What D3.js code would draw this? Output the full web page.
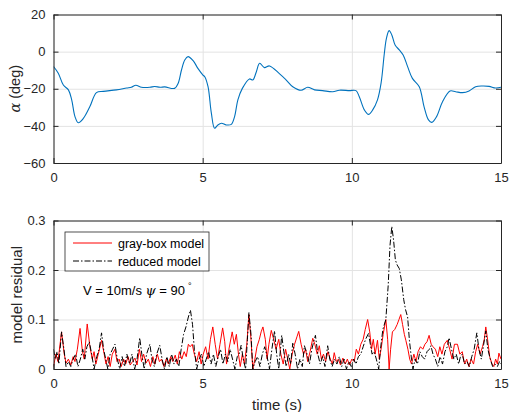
<!DOCTYPE html>
<html>
<head>
<meta charset="utf-8">
<script src="https://cdn.jsdelivr.net/npm/d3@7"></script>
<style>
  body { margin: 0; background: #fff; }
  svg { font-family: "Liberation Sans", Arial, sans-serif; }
  .axis path, .axis line { stroke: #262626; }
  .axis text { fill: #262626; font-size: 13px; }
  .grid line { stroke: #e3e3e3; }
  .grid path { display: none; }
</style>
</head>
<body>
<div id="chart"></div>
<script>
// angle of attack (t [s], alpha [deg])
var alphaT = [0, 0.16, 0.33, 0.5, 0.61, 0.72, 0.83, 1.0, 1.22, 1.44, 1.67, 2.11, 2.45, 2.61, 2.76, 2.95, 3.23, 3.39, 3.57, 3.73, 4.06, 4.18, 4.29, 4.40, 4.51, 4.68, 4.84, 5.01, 5.07, 5.18, 5.29, 5.40, 5.51, 5.63, 5.79, 5.96, 6.07, 6.18, 6.33, 6.57, 6.68, 6.80, 6.91, 7.07, 7.24, 7.58, 7.80, 8.02, 8.30, 8.52, 8.75, 9.02, 9.36, 9.58, 9.92, 10.14, 10.25, 10.42, 10.56, 10.70, 10.86, 10.98, 11.09, 11.16, 11.25, 11.34, 11.45, 11.59, 11.72, 11.87, 12.03, 12.26, 12.42, 12.57, 12.68, 12.84, 13.04, 13.29, 13.48, 13.71, 13.93, 14.15, 14.37, 14.6, 14.82, 15];
var alphaV = [-8, -11.6, -18, -20.6, -26, -35, -38.3, -36, -29.6, -22.1, -21.4, -20.6, -19.6, -19.2, -18.1, -19.2, -19.2, -18.8, -19.2, -19, -19.8, -17, -9.9, -4.5, -2.7, -4.9, -9, -12.6, -13.5, -18.9, -33, -41.3, -39.5, -38.6, -39.5, -39.2, -35, -26, -19.8, -14.7, -15.3, -10.8, -6.3, -8.6, -7.7, -12, -15.3, -18.9, -20.8, -19.2, -20.6, -21, -21.6, -20.8, -21, -21, -24.3, -31.4, -33.8, -31.4, -26, -17, -0.9, 7.2, 11.3, 9, 3.6, 0.9, -1.8, -8.1, -14.4, -18.9, -29.6, -36.8, -38.1, -35, -27, -21.2, -21.6, -22.1, -21.2, -18.9, -18.5, -18.7, -19.6, -19.2];

// gray-box model residual
var grayT = [0, 0.08, 0.15, 0.27, 0.36, 0.42, 0.5, 0.58, 0.66, 0.72, 0.8, 0.89, 0.97, 1.03, 1.13, 1.22, 1.3, 1.36, 1.42, 1.5, 1.61, 1.7, 1.76, 1.83, 1.9, 1.97, 2.06, 2.13, 2.2, 2.27, 2.35, 2.42, 2.5, 2.57, 2.65, 2.73, 2.8, 2.88, 2.95, 3.02, 3.1, 3.18, 3.25, 3.33, 3.4, 3.48, 3.55, 3.62, 3.7, 3.78, 3.85, 3.93, 4.0, 4.08, 4.15, 4.22, 4.3, 4.38, 4.45, 4.52, 4.58, 4.65, 4.72, 4.8, 4.88, 4.95, 5.02, 5.1, 5.18, 5.26, 5.34, 5.42, 5.5, 5.58, 5.67, 5.74, 5.8, 5.88, 5.99, 6.06, 6.13, 6.2, 6.26, 6.33, 6.4, 6.48, 6.55, 6.62, 6.68, 6.75, 6.82, 6.9, 6.96, 7.02, 7.1, 7.16, 7.22, 7.3, 7.38, 7.46, 7.55, 7.62, 7.7, 7.78, 7.85, 7.92, 8.0, 8.08, 8.16, 8.22, 8.3, 8.38, 8.45, 8.52, 8.6, 8.69, 8.76, 8.84, 8.91, 8.98, 9.05, 9.12, 9.2, 9.28, 9.35, 9.41, 9.48, 9.55, 9.62, 9.7, 9.78, 9.85, 9.92, 10.0, 10.08, 10.15, 10.22, 10.3, 10.38, 10.45, 10.53, 10.6, 10.66, 10.72, 10.78, 10.86, 10.92, 10.98, 11.05, 11.14, 11.2, 11.25, 11.3, 11.36, 11.44, 11.52, 11.58, 11.64, 11.7, 11.76, 11.81, 11.88, 11.94, 12.0, 12.08, 12.15, 12.22, 12.3, 12.38, 12.45, 12.52, 12.59, 12.66, 12.72, 12.8, 12.88, 12.95, 13.02, 13.1, 13.2, 13.28, 13.36, 13.44, 13.54, 13.62, 13.7, 13.78, 13.85, 13.92, 14.0, 14.08, 14.15, 14.22, 14.3, 14.38, 14.44, 14.49, 14.55, 14.62, 14.7, 14.76, 14.82, 14.88, 14.93, 15.0];
var grayV = [0.005, 0.03, 0.015, 0.075, 0.03, 0.012, 0.02, 0.008, 0.025, 0.015, 0.04, 0.082, 0.035, 0.02, 0.091, 0.045, 0.02, 0.035, 0.01, 0.03, 0.058, 0.03, 0.01, 0.025, 0.005, 0.03, 0.04, 0.015, 0.02, 0.005, 0.02, 0.01, 0.025, 0.008, 0.015, 0.022, 0.008, 0.04, 0.015, 0.03, 0.012, 0.02, 0.005, 0.025, 0.01, 0.03, 0.015, 0.02, 0.005, 0.02, 0.01, 0.025, 0.015, 0.028, 0.01, 0.035, 0.02, 0.035, 0.025, 0.05, 0.045, 0.05, 0.03, 0.015, 0.035, 0.01, 0.03, 0.045, 0.02, 0.06, 0.085, 0.05, 0.02, 0.05, 0.083, 0.055, 0.01, 0.04, 0.075, 0.05, 0.07, 0.03, 0.005, 0.03, 0.01, 0.05, 0.11, 0.06, 0.0, 0.02, 0.045, 0.06, 0.075, 0.085, 0.06, 0.02, 0.05, 0.078, 0.06, 0.04, 0.06, 0.03, 0.01, 0.04, 0.02, 0.0, 0.03, 0.05, 0.065, 0.076, 0.05, 0.03, 0.04, 0.015, 0.035, 0.062, 0.05, 0.03, 0.047, 0.02, 0.03, 0.015, 0.035, 0.02, 0.01, 0.033, 0.015, 0.02, 0.008, 0.022, 0.01, 0.02, 0.008, 0.02, 0.015, 0.04, 0.03, 0.05, 0.06, 0.08, 0.1, 0.075, 0.04, 0.06, 0.03, 0.058, 0.02, 0.04, 0.07, 0.1, 0.06, 0.0, 0.04, 0.075, 0.08, 0.09, 0.1, 0.11, 0.09, 0.07, 0.058, 0.04, 0.02, 0.01, 0.03, 0.015, 0.035, 0.045, 0.04, 0.05, 0.055, 0.068, 0.05, 0.045, 0.04, 0.025, 0.045, 0.03, 0.05, 0.058, 0.04, 0.02, 0.05, 0.05, 0.03, 0.035, 0.01, 0.02, 0.005, 0.02, 0.01, 0.035, 0.05, 0.03, 0.045, 0.06, 0.085, 0.06, 0.025, 0.01, 0.005, 0.02, 0.01, 0.032, 0.02];

// reduced model residual
var reducedT = [0, 0.06, 0.12, 0.18, 0.27, 0.35, 0.42, 0.5, 0.58, 0.66, 0.74, 0.82, 0.9, 0.98, 1.05, 1.12, 1.2, 1.28, 1.36, 1.45, 1.53, 1.61, 1.68, 1.75, 1.82, 1.9, 1.98, 2.06, 2.14, 2.22, 2.3, 2.38, 2.46, 2.55, 2.63, 2.72, 2.8, 2.89, 2.96, 3.04, 3.12, 3.23, 3.3, 3.38, 3.46, 3.56, 3.64, 3.72, 3.8, 3.88, 3.96, 4.04, 4.12, 4.2, 4.28, 4.36, 4.44, 4.52, 4.59, 4.66, 4.72, 4.8, 4.88, 4.96, 5.04, 5.12, 5.2, 5.28, 5.36, 5.44, 5.52, 5.6, 5.68, 5.76, 5.84, 5.92, 6.0, 6.08, 6.16, 6.22, 6.29, 6.36, 6.44, 6.5, 6.55, 6.62, 6.68, 6.76, 6.84, 6.92, 7.0, 7.08, 7.16, 7.24, 7.32, 7.41, 7.48, 7.55, 7.65, 7.72, 7.8, 7.88, 7.95, 8.02, 8.1, 8.18, 8.26, 8.34, 8.41, 8.5, 8.58, 8.66, 8.72, 8.78, 8.86, 8.94, 9.02, 9.1, 9.19, 9.26, 9.34, 9.42, 9.5, 9.58, 9.66, 9.74, 9.82, 9.9, 9.98, 10.06, 10.14, 10.22, 10.3, 10.38, 10.46, 10.56, 10.62, 10.68, 10.75, 10.82, 10.9, 10.96, 11.04, 11.14, 11.22, 11.28, 11.34, 11.4, 11.46, 11.52, 11.59, 11.66, 11.74, 11.8, 11.87, 11.93, 12.0, 12.05, 12.12, 12.2, 12.28, 12.36, 12.44, 12.52, 12.6, 12.65, 12.72, 12.8, 12.88, 12.96, 13.04, 13.12, 13.2, 13.26, 13.34, 13.42, 13.5, 13.58, 13.64, 13.7, 13.78, 13.86, 13.94, 14.02, 14.1, 14.19, 14.26, 14.34, 14.42, 14.49, 14.56, 14.64, 14.72, 14.8, 14.88, 14.95, 15.0];
var reducedV = [0.04, 0.02, 0.035, 0.01, 0.075, 0.04, 0.005, 0.015, 0.005, 0.02, 0.03, 0.005, 0.02, 0.04, 0.02, 0.045, 0.055, 0.03, 0.0, 0.025, 0.04, 0.073, 0.04, 0.02, 0.0, 0.03, 0.04, 0.05, 0.02, 0.0, 0.025, 0.005, 0.03, 0.01, 0.03, 0.0, 0.02, 0.063, 0.03, 0.0, 0.03, 0.05, 0.02, 0.005, 0.03, 0.048, 0.02, 0.0, 0.025, 0.005, 0.03, 0.01, 0.02, 0.005, 0.04, 0.07, 0.085, 0.105, 0.119, 0.09, 0.04, 0.0, 0.02, 0.03, 0.005, 0.02, 0.035, 0.01, 0.03, 0.005, 0.025, 0.04, 0.01, 0.03, 0.015, 0.04, 0.02, 0.0, 0.025, 0.03, 0.048, 0.02, 0.0, 0.06, 0.114, 0.07, 0.0, 0.015, 0.025, 0.005, 0.03, 0.045, 0.025, 0.0, 0.04, 0.077, 0.03, 0.0, 0.068, 0.035, 0.005, 0.03, 0.01, 0.052, 0.03, 0.0, 0.02, 0.005, 0.047, 0.03, 0.01, 0.04, 0.055, 0.068, 0.03, 0.01, 0.025, 0.005, 0.047, 0.02, 0.005, 0.02, 0.01, 0.025, 0.005, 0.02, 0.0, 0.015, 0.005, 0.02, 0.01, 0.025, 0.03, 0.045, 0.06, 0.072, 0.05, 0.03, 0.035, 0.02, 0.0, 0.04, 0.08, 0.1, 0.17, 0.25, 0.288, 0.26, 0.22, 0.21, 0.203, 0.18, 0.14, 0.12, 0.105, 0.058, 0.02, 0.0, 0.02, 0.01, 0.035, 0.025, 0.02, 0.035, 0.04, 0.047, 0.03, 0.02, 0.005, 0.025, 0.01, 0.035, 0.045, 0.063, 0.04, 0.02, 0.03, 0.01, 0.025, 0.03, 0.01, 0.015, 0.005, 0.025, 0.04, 0.073, 0.04, 0.02, 0.05, 0.077, 0.04, 0.02, 0.005, 0.01, 0.005, 0.015, 0.01];

var xTicks = [0, 5, 10, 15];
var alphaTicks = [-60, -40, -20, 0, 20];
var resTicks = [0, 0.1, 0.2, 0.3];

var W = 509, H = 412;
var svg = d3.select("#chart").append("svg").attr("width", W).attr("height", H);

function zip(t, v) { return t.map(function(d, i) { return [d, v[i]]; }); }

// one MATLAB style axes box, returns scales + group
function panel(box, ydom, yticks, yfmt) {
    var x = d3.scaleLinear().domain([0, 15]).range([box.left, box.right]);
    var y = d3.scaleLinear().domain(ydom).range([box.bottom, box.top]);
    var g = svg.append("g");
    var w = box.right - box.left, h = box.bottom - box.top;
    g.append("g").attr("class", "grid").attr("transform", "translate(0," + box.bottom + ")")
        .call(d3.axisBottom(x).tickValues(xTicks).tickSize(-h).tickFormat(""));
    g.append("g").attr("class", "grid").attr("transform", "translate(" + box.left + ",0)")
        .call(d3.axisLeft(y).tickValues(yticks).tickSize(-w).tickFormat(""));
    var clip = "clip" + Math.round(box.top);
    svg.append("clipPath").attr("id", clip).append("rect")
        .attr("x", box.left).attr("y", box.top - 1).attr("width", w).attr("height", h + 1);
    var plot = g.append("g").attr("clip-path", "url(#" + clip + ")");
    return { x: x, y: y, g: g, plot: plot, box: box, yticks: yticks, yfmt: yfmt };
}

function frame(p) {
    var b = p.box, g = p.g;
    g.append("g").attr("class", "axis").attr("transform", "translate(0," + b.bottom + ")")
        .call(d3.axisBottom(p.x).tickValues(xTicks).tickSize(-5).tickPadding(10).tickSizeOuter(0));
    g.append("g").attr("class", "axis").attr("transform", "translate(0," + b.top + ")")
        .call(d3.axisTop(p.x).tickValues(xTicks).tickSize(-5).tickFormat("").tickSizeOuter(0));
    g.append("g").attr("class", "axis").attr("transform", "translate(" + b.left + ",0)")
        .call(d3.axisLeft(p.y).tickValues(p.yticks).tickSize(-5).tickPadding(8).tickFormat(p.yfmt).tickSizeOuter(0));
    g.append("g").attr("class", "axis").attr("transform", "translate(" + b.right + ",0)")
        .call(d3.axisRight(p.y).tickValues(p.yticks).tickSize(-5).tickFormat("").tickSizeOuter(0));
    g.selectAll(".axis").attr("font-family", null).attr("font-size", null);
}

// top: angle of attack
var topP = panel({ left: 53.5, right: 501, top: 14.5, bottom: 163 }, [-60, 20], alphaTicks, d3.format("d"));
topP.plot.append("path")
    .datum(zip(alphaT, alphaV))
    .attr("fill", "none").attr("stroke", "#0072bd").attr("stroke-width", 1.1)
    .attr("d", d3.line().x(function(d) { return topP.x(d[0]); }).y(function(d) { return topP.y(d[1]); }).curve(d3.curveCatmullRom.alpha(0.5)));
frame(topP);

svg.append("text")
    .attr("transform", "translate(20," + ((14.5 + 163) / 2) + ")rotate(-90)")
    .attr("text-anchor", "middle").attr("font-size", "14.5px").attr("fill", "#262626")
    .html('<tspan font-family="DejaVu Serif" font-style="italic">α</tspan> (deg)');

// bottom: residuals
var botP = panel({ left: 53.5, right: 501, top: 220.5, bottom: 369 }, [0, 0.3], resTicks, function(d) { return d === 0 ? "0" : d3.format(".1f")(d); });
var line = d3.line().x(function(d) { return botP.x(d[0]); }).y(function(d) { return botP.y(d[1]); });
botP.plot.append("path").datum(zip(grayT, grayV))
    .attr("fill", "none").attr("stroke", "#ff0000").attr("stroke-width", 1)
    .attr("d", line);
botP.plot.append("path").datum(zip(reducedT, reducedV))
    .attr("fill", "none").attr("stroke", "#000").attr("stroke-width", 1)
    .attr("stroke-dasharray", "6,2,1.5,2")
    .attr("d", line);
frame(botP);

svg.append("text")
    .attr("transform", "translate(22," + ((220.5 + 369) / 2) + ")rotate(-90)")
    .attr("text-anchor", "middle").attr("font-size", "15px").attr("fill", "#262626")
    .text("model residual");
svg.append("text")
    .attr("x", 277).attr("y", 410)
    .attr("text-anchor", "middle").attr("font-size", "15px").attr("fill", "#262626")
    .text("time (s)");

// legend
var leg = svg.append("g").attr("transform", "translate(65,232)");
leg.append("rect").attr("width", 144).attr("height", 39)
    .attr("fill", "#fff").attr("stroke", "#262626").attr("stroke-width", 0.8);
var legItems = [
    { label: "gray-box model", color: "#ff0000", dash: null },
    { label: "reduced model", color: "#000", dash: "6,2,1.5,2" }
];
legItems.forEach(function(d, i) {
    var yy = 11 + i * 18;
    leg.append("line").attr("x1", 8).attr("x2", 47).attr("y1", yy).attr("y2", yy)
        .attr("stroke", d.color).attr("stroke-width", 1).attr("stroke-dasharray", d.dash);
    leg.append("text").attr("x", 53).attr("y", yy + 4.5)
        .attr("font-size", "12.5px").attr("fill", "#000").text(d.label);
});

// operating point note
svg.append("text").attr("x", 83).attr("y", 295)
    .attr("font-size", "13px").attr("fill", "#000")
    .html('V = 10m/s <tspan font-family="DejaVu Serif" font-style="italic">ψ</tspan> = 90<tspan dx="3" dy="-6" font-size="9px">°</tspan>');
</script>
</body>
</html>
